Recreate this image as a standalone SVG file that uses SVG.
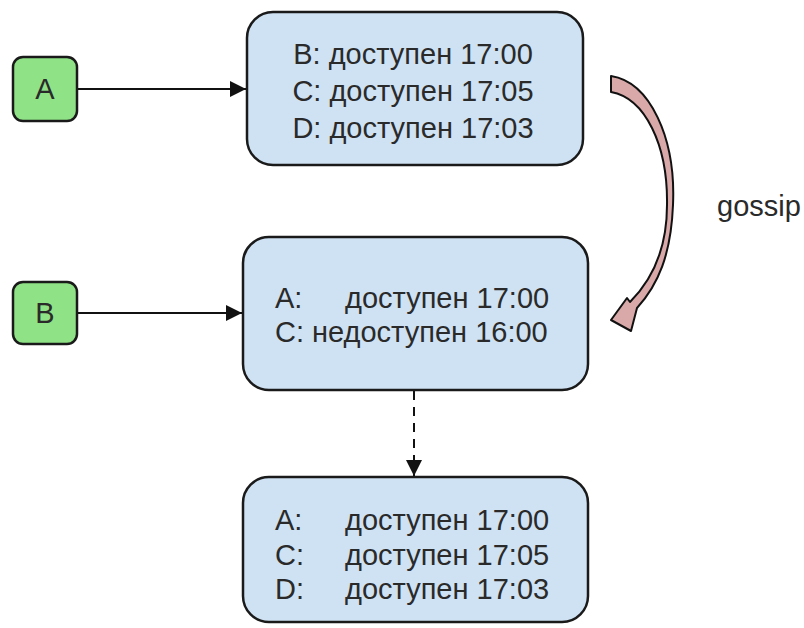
<svg xmlns="http://www.w3.org/2000/svg" width="804" height="628" viewBox="0 0 804 628">
  <style>
    .state { fill: #cfe2f3; stroke: #1a1a1a; stroke-width: 2.5; }
    .peer { fill: #8fe386; stroke: #1a1a1a; stroke-width: 2.5; }
    .lbl { font-family: "Liberation Sans", Arial, sans-serif; font-size: 29px; fill: #2a2a2a; }
    .conn { stroke: #111; stroke-width: 2; fill: none; }
  </style>
  <defs>
    <marker id="headL" viewBox="0 0 10 10" refX="10" refY="5" markerWidth="20" markerHeight="16" markerUnits="userSpaceOnUse" orient="auto">
      <path d="M0,0 L10,5 L0,10 Z" fill="#111"/>
    </marker>
  </defs>

  <rect width="804" height="628" fill="#ffffff"/>

  <!-- connectors -->
  <g id="connectors">
    <line class="conn" x1="77" y1="89" x2="246" y2="89" marker-end="url(#headL)"/>
    <line class="conn" x1="77" y1="313" x2="242" y2="313" marker-end="url(#headL)"/>
    <line class="conn" x1="414" y1="391" x2="414" y2="476" stroke-dasharray="9,7" marker-end="url(#headL)"/>
    <!-- curved gossip arrow -->
    <path d="M611,76 C650,82 676,138 673,205 C671,255 658,285 637,308 L631,331 L611,320 L627,298 L630,302 C652,280 667,250 667,205 C668,145 645,98 611,92 Z" fill="#d9a8a8" stroke="#111" stroke-width="2" stroke-linejoin="round"/>
    <text class="lbl" x="717" y="216">gossip</text>
  </g>

  <!-- peer nodes -->
  <g id="node-a">
    <rect class="peer" x="13" y="57" width="64" height="64" rx="10"/>
    <text class="lbl" x="45" y="99" text-anchor="middle">A</text>
  </g>
  <g id="node-b">
    <rect class="peer" x="13" y="282" width="64" height="62" rx="10"/>
    <text class="lbl" x="45" y="323" text-anchor="middle">B</text>
  </g>

  <!-- state tables -->
  <g id="state-a">
    <rect class="state" x="247" y="12" width="336" height="153" rx="26"/>
    <text class="lbl" x="413" y="64" text-anchor="middle">B: доступен 17:00</text>
    <text class="lbl" x="413" y="101" text-anchor="middle">C: доступен 17:05</text>
    <text class="lbl" x="413" y="138" text-anchor="middle">D: доступен 17:03</text>
  </g>

  <g id="state-b">
    <rect class="state" x="243" y="237" width="345" height="153" rx="26"/>
    <text class="lbl" x="275" y="308">A:</text>
    <text class="lbl" x="345" y="308">доступен 17:00</text>
    <text class="lbl" x="275" y="342">C: недоступен 16:00</text>
  </g>

  <g id="state-b-merged">
    <rect class="state" x="243" y="477" width="345" height="145" rx="26"/>
    <text class="lbl" x="275" y="530">A:</text>
    <text class="lbl" x="345" y="530">доступен 17:00</text>
    <text class="lbl" x="275" y="565">C:</text>
    <text class="lbl" x="345" y="565">доступен 17:05</text>
    <text class="lbl" x="275" y="599">D:</text>
    <text class="lbl" x="345" y="599">доступен 17:03</text>
  </g>
</svg>
